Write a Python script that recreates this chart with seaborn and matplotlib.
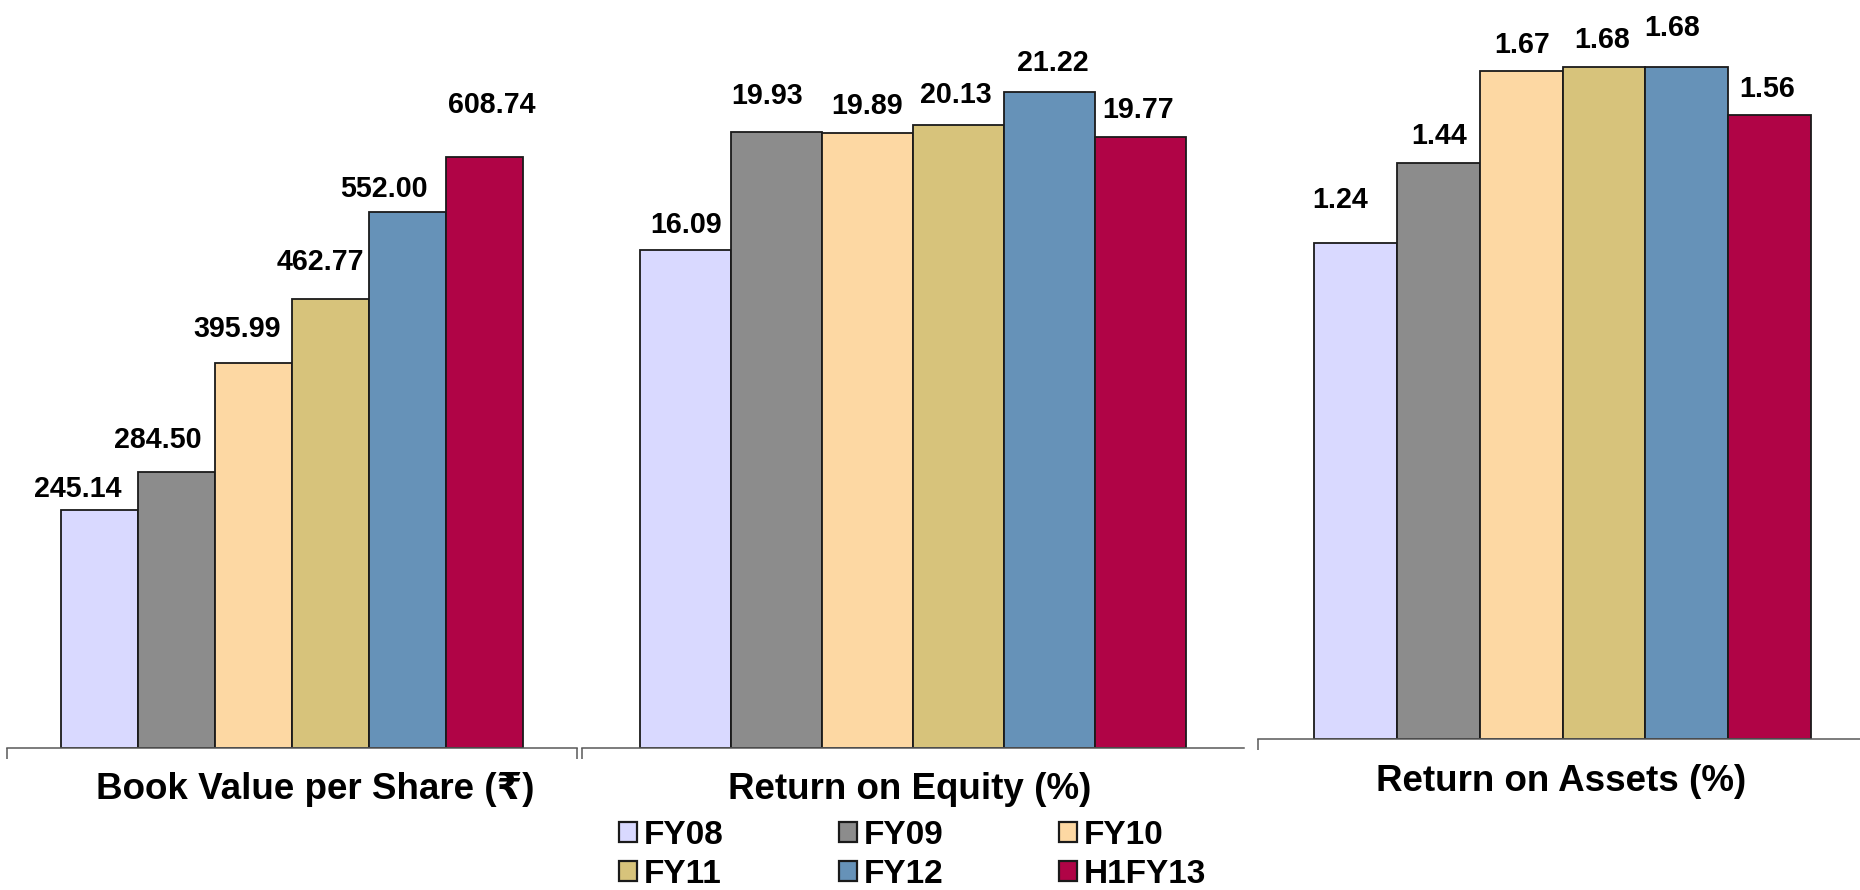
import matplotlib
matplotlib.use("Agg")
import matplotlib.pyplot as plt
import seaborn as sns
import pandas as pd
from matplotlib.patches import Patch

# ---- data ----
years = ["FY08", "FY09", "FY10", "FY11", "FY12", "H1FY13"]
book_value = [245.14, 284.50, 395.99, 462.77, 552.00, 608.74]
roe = [16.09, 19.93, 19.89, 20.13, 21.22, 19.77]
roa = [1.24, 1.44, 1.67, 1.68, 1.68, 1.56]
panel_titles = ["Book Value per Share (\u20b9)", "Return on Equity (%)", "Return on Assets (%)"]

# ---- styles ----
colors = ["#D9D9FF", "#8C8C8C", "#FDD8A3", "#D7C37B", "#6692B8", "#B00446"]
edge = "#1a1a1a"
axis_col = "#595959"

# manual label nudges (pixels: dx, dy of text centre above bar top)
bv_off = [(-22, 22.5), (-18.5, 34), (-16.5, 37), (-10, 39), (-23.5, 25), (7, 54.7)]
roe_off = [(0.4, 28), (-9, 37.5), (-0.5, 29), (-2.5, 32.7), (3.5, 30.7), (-3, 29)]
roa_off = [(-15, 45.3), (1.3, 29.3), (1, 28.2), (-2, 29.2), (-15, 41.2), (-2, 28.3)]

sns.set_theme(style="white")
plt.rcParams["font.family"] = ["Liberation Sans", "DejaVu Sans"]

W, H = 1860, 890
fig = plt.figure(figsize=(W / 100, H / 100), dpi=100)

# axes geometry in pixels: left, right, baseline(y from top)
geo = [(6.7, 577, 747.5), (582, 1244, 747.5), (1258, 1867, 739)]
ytops = [770.6, 24.19, 1.8466]
widths = [0.8105, 0.8255, 0.816]
series = [book_value, roe, roa]
offsets = [bv_off, roe_off, roa_off]
fmt = "{:.2f}"
title_pos = [(315, 799), (910, 799), (1561, 791)]
right_tick = [True, False, False]

val_fs = 20.6
val_px = val_fs * 100 / 72
cap_half = 0.358 * val_px

for i in range(3):
    l, r, base = geo[i]
    ax = fig.add_axes([l / W, (H - base) / H, (r - l) / W, base / H])
    df = pd.DataFrame({"metric": [panel_titles[i]] * len(years),
                       "year": years, "value": series[i]})
    sns.barplot(data=df, x="metric", y="value", hue="year", hue_order=years,
                palette=colors, saturation=1, width=widths[i], gap=0,
                edgecolor=edge, linewidth=1.3, errorbar=None, legend=False, ax=ax)
    ax.set_xlim(-0.5, 0.5)
    ax.set_ylim(0, ytops[i])
    ax.set_xlabel("")
    ax.set_ylabel("")
    ax.set_yticks([])
    ax.set_xticks([])
    ax.set_xticks([-0.5, 0.5] if right_tick[i] else [-0.5], minor=True)
    ax.tick_params(axis="x", which="minor", length=8, width=1.1, color=axis_col,
                   direction="out", labelbottom=False, bottom=True)
    for s in ["left", "top", "right"]:
        ax.spines[s].set_visible(False)
    ax.spines["bottom"].set_color(axis_col)
    ax.spines["bottom"].set_linewidth(1.1)
    ax.patch.set_alpha(0)

    for j, cont in enumerate(ax.containers):
        bar = cont.patches[0]
        cx = bar.get_x() + bar.get_width() / 2
        top = bar.get_height()
        dx, dy = offsets[i][j]
        ax.annotate(fmt.format(series[i][j]), xy=(cx, top),
                    xytext=(dx, dy - cap_half), textcoords="offset pixels",
                    ha="center", va="baseline", fontsize=val_fs,
                    fontweight="bold", color="black", annotation_clip=False)

    tx, ty = title_pos[i]
    fig.text(tx / W, (H - ty) / H, panel_titles[i], ha="center", va="baseline",
             fontsize=26.5, fontweight="bold", color="black",
             family=["Liberation Sans", "DejaVu Sans"])

# legend (row-major order across 3 columns)
order = [0, 3, 1, 4, 2, 5]
handles = [Patch(facecolor=colors[k], edgecolor=edge, linewidth=1.6) for k in order]
labels = [years[k] for k in order]
fig.legend(handles, labels, ncol=3, loc="upper left",
           bbox_to_anchor=(619 / W, (H - 820) / H), frameon=False,
           prop={"family": ["Liberation Sans", "DejaVu Sans"], "weight": "bold", "size": 24},
           labelcolor="black",
           handlelength=0.53, handleheight=0.53, handletextpad=0.2,
           columnspacing=3.48, labelspacing=0.24, borderpad=0, borderaxespad=0)

fig.savefig("out.png", dpi=100)
